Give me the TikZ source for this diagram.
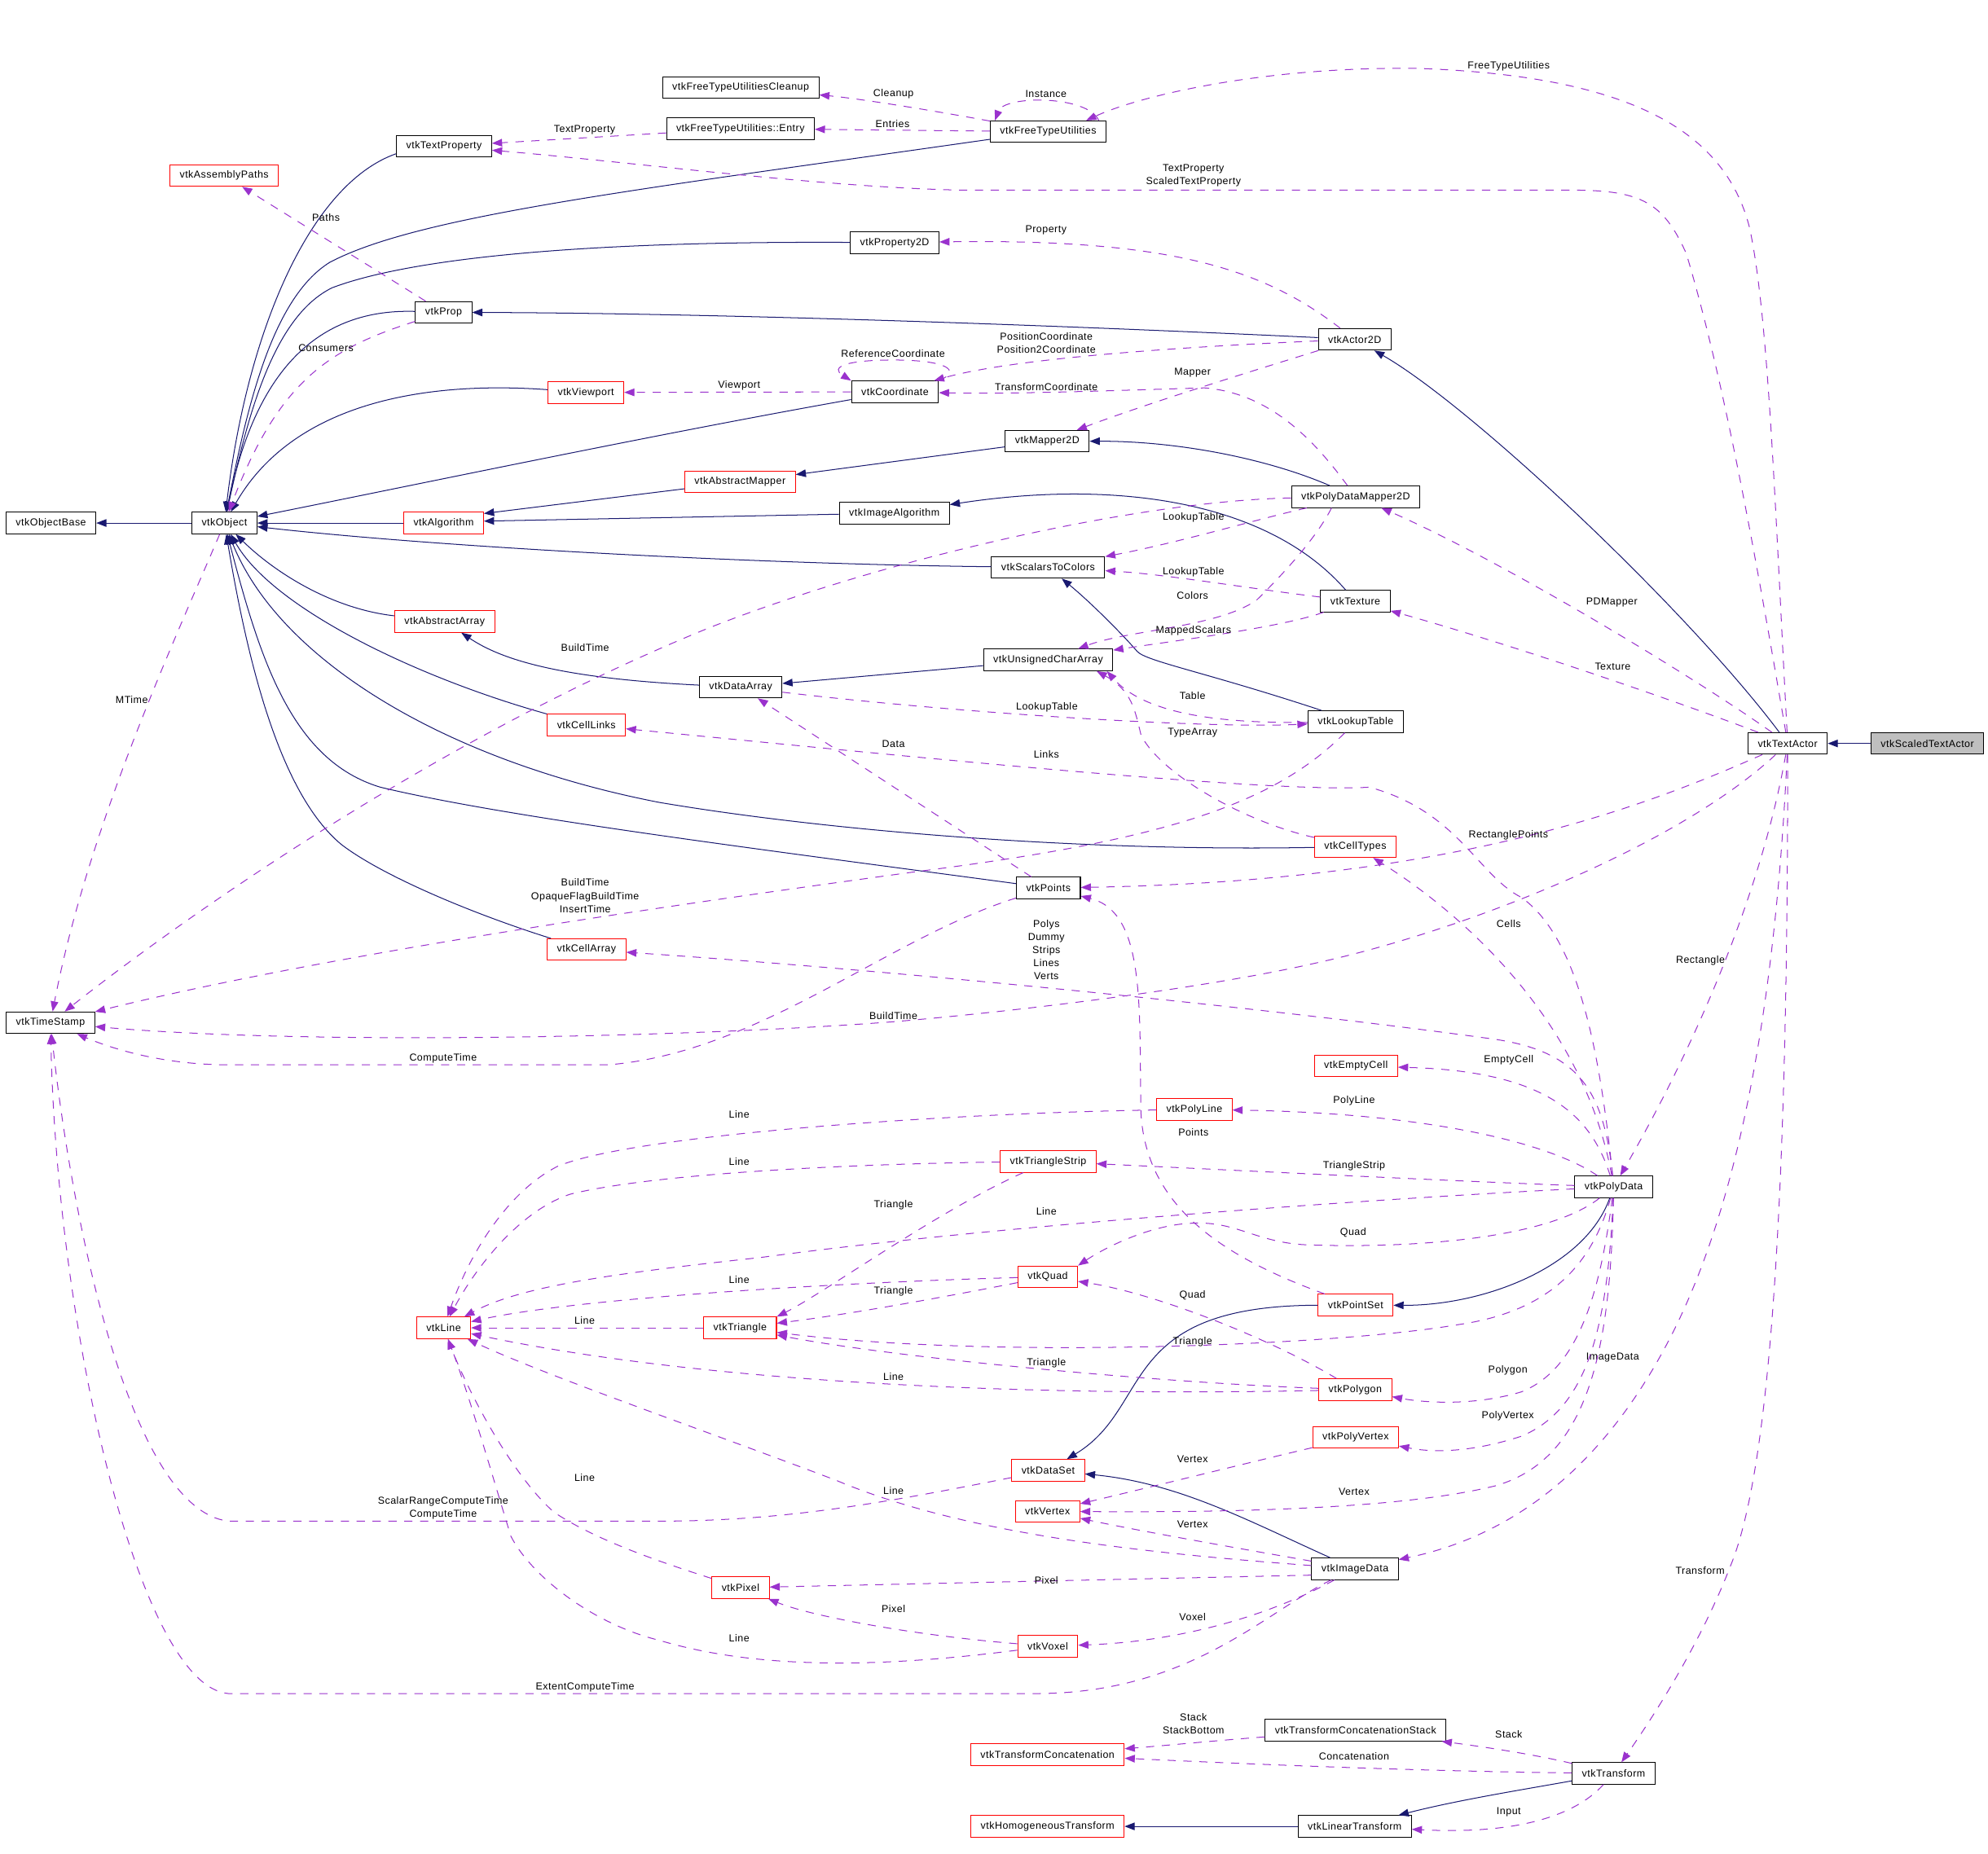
\documentclass[tikz,border=0pt]{standalone}
\usepackage{fontspec}
\setmainfont{Liberation Sans}[LetterSpace=4.0]
\usetikzlibrary{arrows.meta}
\definecolor{inhblue}{HTML}{191970}
\definecolor{usepurple}{HTML}{9A32CD}
\definecolor{leafgray}{HTML}{BFBFBF}

\begin{document}
\begin{tikzpicture}[x=1pt, y=-1pt,
  cls/.style={draw, fill=white, minimum height=17pt, inner xsep=7.7pt, inner ysep=0pt,
    line width=0.65pt, font=\fontsize{8}{10.3}\selectfont},
  lbl/.style={font=\fontsize{8}{10.3}\selectfont, text=black, inner sep=0pt, align=center},
  inherit/.style={color=inhblue, line width=0.65pt, -{Triangle[length=8pt,width=6pt]}},
  member/.style={color=usepurple, line width=0.65pt, dash pattern=on 6.5pt off 6pt,
    -{Triangle[length=8pt,width=6pt]}}]
  \path[use as bounding box, fill=white] (0,0) rectangle (1568,1462);

  % classes, placed at their centres
  \foreach \nm/\x/\y/\col in {
      vtkTextActor/1410/586.5/black, vtkActor2D/1068.5/267.7/black,
      vtkFreeTypeUtilities/826.7/103.9/black, vtkFreeTypeUtilitiesCleanup/584.2/69.1/black,
      vtkTextProperty/350.2/115.3/black, vtkProp/349.9/246.4/black,
      vtkProperty2D/705.6/191.4/black, vtkCoordinate/705.9/309.1/black,
      vtkMapper2D/826/348.1/black, vtkImageAlgorithm/705.4/404.8/black,
      vtkObject/177/412.6/black, vtkObjectBase/40.2/412.6/black,
      vtkPolyDataMapper2D/1069.2/391.9/black, vtkScalarsToColors/826.7/447.6/black,
      vtkTexture/1069/474.2/black, vtkUnsignedCharArray/826.7/520.6/black,
      vtkDataArray/584.2/542.1/black, vtkLookupTable/1069.2/569.3/black,
      vtkPoints/826.9/700.5/black, vtkTimeStamp/39.8/806.8/black,
      vtkPolyData/1272.8/936.3/black, vtkImageData/1068.7/1237.6/black,
      vtkTransformConcatenationStack/1069.2/1364.9/black, vtkTransform/1272.7/1399/black,
      vtkLinearTransform/1068.5/1440.8/black,
      vtkAssemblyPaths/176.8/138.5/red, vtkViewport/462.1/309.6/red,
      vtkAbstractMapper/583.7/380.2/red, vtkAlgorithm/349.9/412.6/red,
      vtkAbstractArray/350.7/490.3/red, vtkCellLinks/462.5/571.9/red,
      vtkCellTypes/1069/667.9/red, vtkCellArray/462.6/749.1/red,
      vtkEmptyCell/1069.5/841/red, vtkPolyLine/942/875.2/red,
      vtkTriangleStrip/826.7/916.3/red, vtkQuad/826.4/1007.2/red,
      vtkLine/349.9/1047.5/red, vtkTriangle/583.7/1047.5/red,
      vtkPointSet/1069.2/1029.6/red, vtkPolygon/1068.9/1096.3/red,
      vtkPolyVertex/1069.2/1134/red, vtkDataSet/826.7/1159.9/red,
      vtkVertex/826.2/1192.3/red, vtkPixel/584.1/1252.5/red,
      vtkVoxel/826.4/1298.7/red, vtkTransformConcatenation/826.2/1384.2/red,
      vtkHomogeneousTransform/826.2/1440.8/red}
    \node[cls, draw=\col] (\nm) at (\x,\y) {\nm};
  \node[cls] (vtkFreeTypeUtilitiesEntry) at (584,101.4) {vtkFreeTypeUtilities::Entry};
  \node[cls, fill=leafgray] (vtkScaledTextActor) at (1520.2,586.5) {vtkScaledTextActor};

  % inheritance
  \draw[inherit] (vtkScaledTextActor) -- (vtkTextActor);
  \draw[inherit] (vtkTextActor) .. controls (1330,480) and (1160,320) .. (vtkActor2D);
  \draw[inherit] (vtkActor2D) .. controls (800,255) and (550,247) .. (vtkProp);
  \draw[inherit] (vtkProp) .. controls (245,243) and (200,300) .. (vtkObject);
  \draw[inherit] (vtkObject) -- (vtkObjectBase);
  \draw[inherit] ([yshift=-6pt]vtkTextProperty.west) .. controls (245,145) and (195,260) .. (vtkObject);
  \draw[inherit] ([yshift=-6pt]vtkFreeTypeUtilities.west) .. controls (500,150) and (330,170) .. (260,207)
    .. controls (215,235) and (195,320) .. (vtkObject);
  \draw[inherit] (vtkProperty2D) .. controls (450,190) and (320,205) .. (262,227)
    .. controls (215,250) and (195,330) .. (vtkObject);
  \draw[inherit] (vtkViewport) .. controls (330,300) and (230,320) .. (vtkObject);
  \draw[inherit] (vtkCoordinate) .. controls (520,342) and (330,382) .. (vtkObject);
  \draw[inherit] (vtkAlgorithm) -- (vtkObject);
  \draw[inherit] (vtkAbstractMapper) -- ([yshift=7.5pt]vtkAlgorithm.east);
  \draw[inherit] (vtkMapper2D) -- (vtkAbstractMapper);
  \draw[inherit] (vtkPolyDataMapper2D) .. controls (1000,362) and (930,348) .. (vtkMapper2D);
  \draw[inherit] (vtkImageAlgorithm) -- ([yshift=1.5pt]vtkAlgorithm.east);
  \draw[inherit] (vtkTexture) .. controls (1000,395) and (880,378) .. (vtkImageAlgorithm);
  \draw[inherit] (vtkScalarsToColors) .. controls (600,445) and (350,432) .. (vtkObject);
  \draw[inherit] (vtkLookupTable) .. controls (950,530) and (905,522) .. (897,514)
    .. controls (885,500) and (860,475) .. (vtkScalarsToColors);
  \draw[inherit] (vtkAbstractArray) .. controls (260,480) and (215,450) .. (vtkObject);
  \draw[inherit] (vtkDataArray) .. controls (440,535) and (395,520) .. (vtkAbstractArray);
  \draw[inherit] (vtkUnsignedCharArray) -- (vtkDataArray);
  \draw[inherit] (vtkCellLinks) .. controls (330,535) and (215,480) .. (vtkObject);
  \draw[inherit] (vtkCellTypes) .. controls (850,672) and (650,655) .. (520,633)
    .. controls (350,600) and (220,520) .. (vtkObject);
  \draw[inherit] (vtkPoints) .. controls (600,670) and (400,645) .. (300,621)
    .. controls (230,600) and (205,520) .. (vtkObject);
  \draw[inherit] (vtkCellArray) .. controls (370,720) and (300,690) .. (269,666)
    .. controls (220,625) and (195,520) .. (vtkObject);
  \draw[inherit] (vtkPolyData) .. controls (1250,1000) and (1170,1030) .. (vtkPointSet);
  \draw[inherit] (vtkPointSet) .. controls (880,1030) and (910,1110) .. (vtkDataSet);
  \draw[inherit] (vtkImageData) .. controls (985,1200) and (930,1170) .. (vtkDataSet);
  \draw[inherit] (vtkTransform) .. controls (1200,1412) and (1150,1420) .. (vtkLinearTransform);
  \draw[inherit] (vtkLinearTransform) -- (vtkHomogeneousTransform);

  % members, top part
  \draw[member] (vtkFreeTypeUtilities) .. controls (740,88) and (680,78) .. (vtkFreeTypeUtilitiesCleanup)
    node[lbl] (lCleanup) at (704.7,73.8) {Cleanup};
  \draw[member] (vtkFreeTypeUtilities) -- (vtkFreeTypeUtilitiesEntry)
    node[lbl] (lEntries) at (704,97.5) {Entries};
  \draw[member] ([xshift=-6pt]vtkFreeTypeUtilities.north east) .. controls (858,75) and (792,75)
    .. ([xshift=4pt]vtkFreeTypeUtilities.north west) node[lbl] (lInstance) at (825,74.1) {Instance};
  \draw[member] (vtkFreeTypeUtilitiesEntry) -- (vtkTextProperty)
    node[lbl] (lTextPropertyA) at (461.1,102.2) {TextProperty};
  \draw[member] (vtkTextActor) .. controls (1400,400) and (1395,250) .. (1380,180)
    .. controls (1360,100) and (1280,60) .. (1120,54)
    .. controls (1000,52) and (900,75) .. ([xshift=-16pt]vtkFreeTypeUtilities.north east)
    node[lbl] (lFreeType) at (1190,52.3) {FreeTypeUtilities};
  \draw[member] (vtkTextActor) .. controls (1385,440) and (1360,300) .. (1330,200)
    .. controls (1312,160) and (1295,150) .. (1240,150) -- (760,150)
    .. controls (650,148) and (500,128) .. (vtkTextProperty)
    node[lbl] (lTextPropertyB) at (941.3,138.5) {TextProperty\\ScaledTextProperty};
  \draw[member] (vtkProp) -- (vtkAssemblyPaths) node[lbl] (lPaths) at (257.1,171.3) {Paths};
  \draw[member] (vtkProp) .. controls (260,275) and (220,300) .. (vtkObject)
    node[lbl] (lConsumers) at (257.1,274.7) {Consumers};
  \draw[member] (vtkActor2D) .. controls (1000,215) and (930,188) .. (vtkProperty2D)
    node[lbl] (lProperty) at (825,181.6) {Property};
  \draw[member] (vtkActor2D) .. controls (900,275) and (790,285) .. (vtkCoordinate)
    node[lbl] (lPosition) at (825.3,270.7) {PositionCoordinate\\Position2Coordinate};
  \draw[member] (vtkCoordinate.north east) .. controls (760,292) and (745,284) .. (705,284)
    .. controls (665,284) and (655,290) .. (vtkCoordinate.north west)
    node[lbl] (lReference) at (704.4,279.1) {ReferenceCoordinate};
  \draw[member] (vtkCoordinate) -- (vtkViewport) node[lbl] (lViewport) at (583,304.3) {Viewport};
  \draw[member] (vtkActor2D) .. controls (980,295) and (900,320) .. (vtkMapper2D)
    node[lbl] (lMapper) at (940.6,294) {Mapper};
  \draw[member] (vtkPolyDataMapper2D) .. controls (1035,345) and (1000,310) .. (950,306)
    .. controls (880,308) and (800,311) .. (vtkCoordinate)
    node[lbl] (lTransformCoord) at (825.3,305) {TransformCoordinate};
  \draw[member] (vtkPolyDataMapper2D) .. controls (990,410) and (930,428) .. (vtkScalarsToColors)
    node[lbl] (lLookupA) at (941.3,408.4) {LookupTable};
  \draw[member] (vtkTexture) .. controls (990,465) and (920,453) .. (vtkScalarsToColors)
    node[lbl] (lLookupB) at (941.3,451.1) {LookupTable};
  \draw[member] ([xshift=-19pt]vtkPolyDataMapper2D.south) .. controls (1038,425) and (1010,455) .. (991,473.5)
    .. controls (960,495) and (890,497) .. (vtkUnsignedCharArray)
    node[lbl] (lColors) at (940.6,469.7) {Colors};
  \draw[member] (vtkTexture) .. controls (1010,495) and (930,505) .. (vtkUnsignedCharArray)
    node[lbl] (lMapped) at (941.3,497.6) {MappedScalars};
  \draw[member] (vtkLookupTable) .. controls (950,571) and (900,560) .. ([xshift=-5pt]vtkUnsignedCharArray.south east)
    node[lbl] (lTable) at (940.6,549) {Table};
  \draw[member] (vtkDataArray) .. controls (750,562) and (950,575) .. (vtkLookupTable)
    node[lbl] (lLookupC) at (825.7,557.7) {LookupTable};
  \draw[member] (vtkCellTypes) .. controls (980,648) and (915,610) .. (900,580)
    .. controls (895,560) and (893,545) .. ([xshift=-13pt]vtkUnsignedCharArray.south east)
    node[lbl] (lTypeArray) at (940.6,578.3) {TypeArray};
  \draw[member] (vtkPoints) -- (vtkDataArray) node[lbl] (lData) at (704.7,587) {Data};
  \draw[member] (vtkPolyData) .. controls (1262,830) and (1245,740) .. (1200,708)
    .. controls (1165,690) and (1150,640) .. (1080,621)
    .. controls (1000,626) and (700,595) .. (vtkCellLinks)
    node[lbl] (lLinks) at (825.3,594.8) {Links};

  % members of vtkTextActor
  \draw[member] (vtkTextActor) .. controls (1330,530) and (1180,440) .. (vtkPolyDataMapper2D)
    node[lbl] (lPDMapper) at (1271.3,475.3) {PDMapper};
  \draw[member] (vtkTextActor) .. controls (1300,545) and (1180,505) .. (vtkTexture)
    node[lbl] (lTexture) at (1272,525.6) {Texture};
  \draw[member] (vtkTextActor) .. controls (1300,635) and (1150,695) .. (vtkPoints)
    node[lbl] (lRectPoints) at (1189.7,659) {RectanglePoints};
  \draw[member] (vtkTextActor) .. controls (1390,700) and (1340,820) .. (vtkPolyData)
    node[lbl] (lRectangle) at (1341.2,758) {Rectangle};
  \draw[member] (vtkTextActor) .. controls (1400,800) and (1370,950) .. (1320,1050)
    .. controls (1270,1150) and (1200,1210) .. (vtkImageData)
    node[lbl] (lImageData) at (1272,1071) {ImageData};
  \draw[member] (vtkTextActor) .. controls (1410,900) and (1400,1150) .. (1365,1235)
    .. controls (1340,1300) and (1300,1360) .. (vtkTransform)
    node[lbl] (lTransform) at (1340.9,1238.7) {Transform};

  % time stamps
  \draw[member] (vtkObject) .. controls (140,500) and (70,650) .. (vtkTimeStamp)
    node[lbl] (lMTime) at (103.9,552.1) {MTime};
  \draw[member] (vtkPolyDataMapper2D) .. controls (900,395) and (700,440) .. (560,495)
    .. controls (350,580) and (150,720) .. (vtkTimeStamp)
    node[lbl] (lBuildTimeA) at (461.5,511) {BuildTime};
  \draw[member] (vtkLookupTable) .. controls (1000,640) and (900,665) .. (720,688)
    .. controls (500,718) and (250,755) .. (vtkTimeStamp)
    node[lbl] (lBuildTimeB) at (461.5,706.6) {BuildTime\\OpaqueFlagBuildTime\\InsertTime};
  \draw[member] (vtkTextActor) .. controls (1320,670) and (1150,735) .. (1041,759)
    .. controls (950,780) and (800,798) .. (705,806)
    .. controls (550,818) and (250,825) .. (vtkTimeStamp)
    node[lbl] (lBuildTimeC) at (704.7,801.6) {BuildTime};
  \draw[member] (vtkPoints) .. controls (700,740) and (600,830) .. (480,840) -- (180,840)
    .. controls (130,840) and (90,828) .. (vtkTimeStamp)
    node[lbl] (lComputeTime) at (349.5,834.9) {ComputeTime};
  \draw[member] (vtkDataSet) .. controls (700,1185) and (620,1200) .. (520,1200) -- (180,1200)
    .. controls (100,1190) and (55,950) .. (vtkTimeStamp)
    node[lbl] (lScalarRange) at (349.5,1189.8) {ScalarRangeComputeTime\\ComputeTime};
  \draw[member] (vtkImageData) .. controls (1000,1270) and (940,1335) .. (820,1336) -- (180,1336)
    .. controls (110,1330) and (45,1050) .. (vtkTimeStamp)
    node[lbl] (lExtent) at (461.5,1331.2) {ExtentComputeTime};

  % members of vtkPolyData
  \draw[member] (vtkPolyData) .. controls (1265,860) and (1245,830) .. (1180,820)
    .. controls (1000,795) and (700,765) .. (vtkCellArray)
    node[lbl] (lCellLists) at (825.3,749.2) {Polys\\Dummy\\Strips\\Lines\\Verts};
  \draw[member] (vtkPolyData) .. controls (1250,810) and (1160,725) .. (vtkCellTypes)
    node[lbl] (lCells) at (1190,729) {Cells};
  \draw[member] (vtkPolyData) .. controls (1255,880) and (1220,845) .. (vtkEmptyCell)
    node[lbl] (lEmptyCell) at (1190,836.5) {EmptyCell};
  \draw[member] (vtkPolyData) .. controls (1220,900) and (1120,878) .. (vtkPolyLine)
    node[lbl] (lPolyLine) at (1068,868.6) {PolyLine};
  \draw[member] (vtkPolyData) .. controls (1150,932) and (950,922) .. (vtkTriangleStrip)
    node[lbl] (lTriStrip) at (1068,919.7) {TriangleStrip};
  \draw[member] (vtkPolyData) .. controls (1100,945) and (800,965) .. (600,992)
    .. controls (480,1005) and (410,1015) .. (vtkLine)
    node[lbl] (lLineA) at (825.3,955.5) {Line};
  \draw[member] (vtkPolyData) .. controls (1220,978) and (1110,985) .. (1030,982)
    .. controls (990,980) and (975,963) .. (940,965)
    .. controls (910,966) and (875,982) .. (vtkQuad.north east)
    node[lbl] (lQuadA) at (1067.3,972.5) {Quad};
  \draw[member] (vtkPolyData) .. controls (1255,1000) and (1220,1035) .. (1150,1045)
    .. controls (1050,1062) and (780,1072) .. (vtkTriangle)
    node[lbl] (lTriangleC) at (940.6,1058.3) {Triangle};
  \draw[member] (vtkPolyData) .. controls (1262,1020) and (1245,1080) .. (1200,1098)
    .. controls (1160,1110) and (1120,1106) .. (vtkPolygon)
    node[lbl] (lPolygon) at (1189.3,1080.8) {Polygon};
  \draw[member] (vtkPolyData) .. controls (1268,1040) and (1255,1110) .. (1200,1133)
    .. controls (1160,1146) and (1130,1146) .. (vtkPolyVertex)
    node[lbl] (lPolyVertex) at (1189.3,1117.3) {PolyVertex};
  \draw[member] (vtkPolyData) .. controls (1270,1060) and (1255,1150) .. (1180,1172)
    .. controls (1100,1192) and (950,1193) .. (vtkVertex)
    node[lbl] (lVertexA) at (1068,1177.1) {Vertex};
  \draw[member] (vtkPointSet) .. controls (960,990) and (905,950) .. (900,880)
    .. controls (898,800) and (905,720) .. (vtkPoints)
    node[lbl] (lPoints) at (941.3,893.2) {Points};

  % cells
  \draw[member] (vtkPolyLine) .. controls (750,878) and (500,895) .. (440,920)
    .. controls (400,940) and (370,990) .. (vtkLine)
    node[lbl] (lLineD) at (583,878.9) {Line};
  \draw[member] (vtkTriangleStrip) .. controls (680,918) and (520,925) .. (450,942)
    .. controls (410,955) and (375,1000) .. (vtkLine)
    node[lbl] (lLineE) at (583,916.2) {Line};
  \draw[member] (vtkTriangleStrip) .. controls (740,955) and (650,1020) .. (vtkTriangle.north east)
    node[lbl] (lTriangleB) at (704.7,950.8) {Triangle};
  \draw[member] (vtkQuad) .. controls (650,1012) and (450,1025) .. (vtkLine)
    node[lbl] (lLineB) at (583,1009.3) {Line};
  \draw[member] (vtkQuad) .. controls (720,1028) and (660,1038) .. (vtkTriangle)
    node[lbl] (lTriangleA) at (704.7,1018.9) {Triangle};
  \draw[member] (vtkTriangle) -- (vtkLine) node[lbl] (lLineC) at (461.1,1042) {Line};
  \draw[member] (vtkPolygon) .. controls (1000,1055) and (910,1020) .. (vtkQuad)
    node[lbl] (lQuadB) at (940.6,1022) {Quad};
  \draw[member] (vtkPolygon) .. controls (900,1090) and (700,1070) .. (vtkTriangle)
    node[lbl] (lTriangleD) at (825.3,1075.4) {Triangle};
  \draw[member] (vtkPolygon) .. controls (800,1102) and (550,1090) .. (vtkLine)
    node[lbl] (lLineF) at (704.7,1086.2) {Line};
  \draw[member] (vtkPolyVertex) .. controls (980,1155) and (900,1175) .. (vtkVertex)
    node[lbl] (lVertexB) at (940.6,1151.3) {Vertex};
  \draw[member] (vtkImageData) .. controls (980,1222) and (900,1208) .. (vtkVertex)
    node[lbl] (lVertexC) at (940.6,1202.8) {Vertex};
  \draw[member] (vtkImageData) .. controls (900,1225) and (760,1210) .. (660,1168)
    .. controls (560,1130) and (430,1085) .. (vtkLine)
    node[lbl] (lLineG) at (704.7,1175.8) {Line};
  \draw[member] ([yshift=-5pt]vtkImageData.west) -- (vtkPixel)
    node[lbl] (lPixelA) at (825.3,1246.6) {Pixel};
  \draw[member] (vtkImageData) .. controls (1000,1275) and (930,1295) .. (vtkVoxel)
    node[lbl] (lVoxel) at (940.6,1275.9) {Voxel};
  \draw[member] (vtkPixel) .. controls (520,1232) and (470,1215) .. (437,1193)
    .. controls (405,1165) and (370,1100) .. (vtkLine)
    node[lbl] (lLineH) at (461.1,1166) {Line};
  \draw[member] (vtkVoxel) .. controls (720,1290) and (640,1275) .. (vtkPixel)
    node[lbl] (lPixelB) at (704.7,1268.9) {Pixel};
  \draw[member] (vtkVoxel) .. controls (700,1315) and (600,1318) .. (520,1294)
    .. controls (470,1282) and (420,1245) .. (403,1212)
    .. controls (390,1170) and (370,1100) .. (vtkLine)
    node[lbl] (lLineI) at (583,1292.1) {Line};

  % transforms
  \draw[member] (vtkTransform) .. controls (1210,1384) and (1170,1378) .. (vtkTransformConcatenationStack)
    node[lbl] (lStack) at (1190,1368.3) {Stack};
  \draw[member] (vtkTransform) .. controls (1100,1397) and (950,1390) .. (vtkTransformConcatenation)
    node[lbl] (lConcat) at (1068,1385.2) {Concatenation};
  \draw[member] (vtkTransformConcatenationStack) .. controls (960,1373) and (920,1377) .. (vtkTransformConcatenation)
    node[lbl] (lStackBottom) at (941.3,1359.6) {Stack\\StackBottom};
  \draw[member] (vtkTransform) .. controls (1240,1435) and (1190,1447) .. (vtkLinearTransform)
    node[lbl] (lInput) at (1190,1429.3) {Input};
\end{tikzpicture}
\end{document}
